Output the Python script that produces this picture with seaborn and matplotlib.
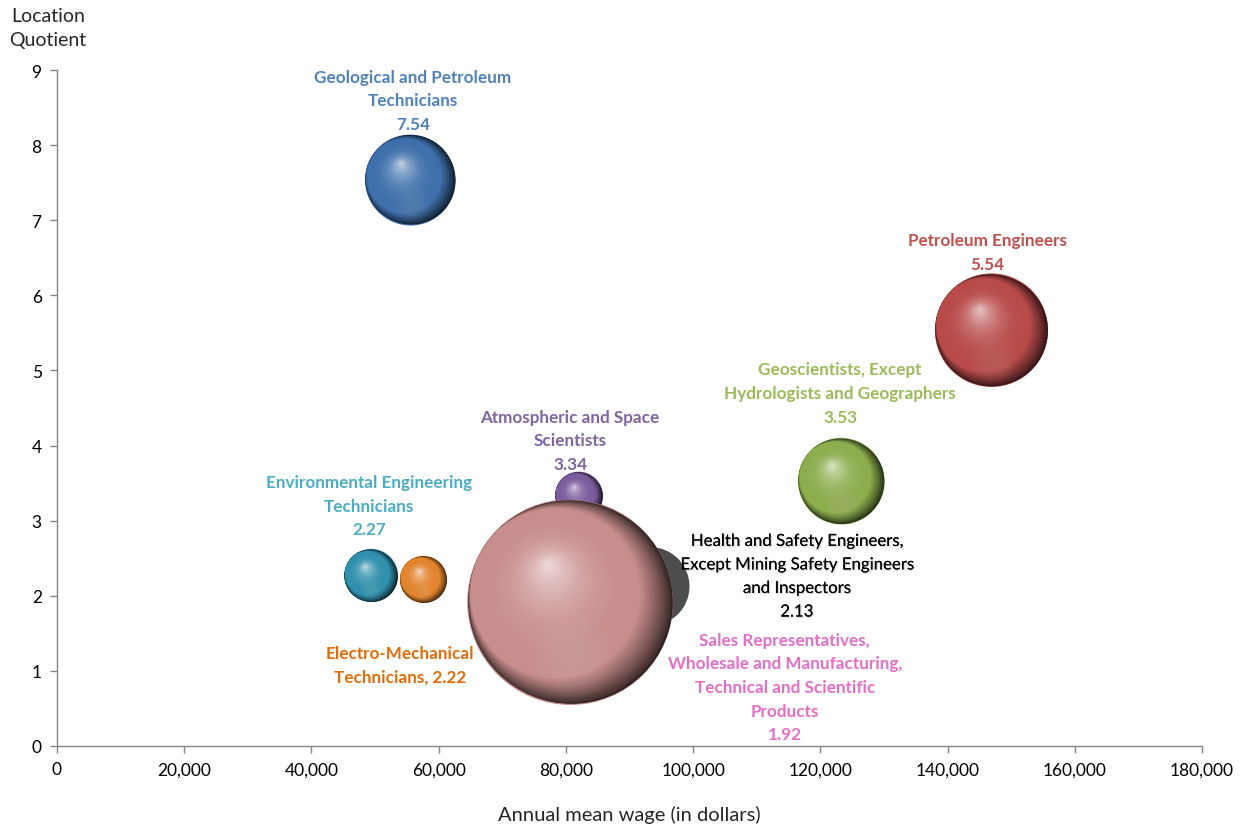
import numpy as np
import pandas as pd
import matplotlib
matplotlib.use("Agg")
import matplotlib.pyplot as plt
import matplotlib.transforms as mtransforms
import matplotlib.colors as mcolors
import matplotlib.patheffects as pe
from matplotlib.ticker import FuncFormatter, MultipleLocator
import seaborn as sns

# Occupations in the mining-related cluster
occupations = [
    "Geological and Petroleum\nTechnicians",
    "Petroleum Engineers",
    "Geoscientists, Except\nHydrologists and Geographers",
    "Atmospheric and Space\nScientists",
    "Environmental Engineering\nTechnicians",
    "Electro-Mechanical\nTechnicians",
    "Health and Safety Engineers,\nExcept Mining Safety Engineers\nand Inspectors",
    "Sales Representatives,\nWholesale and Manufacturing,\nTechnical and Scientific\nProducts",
]
annual_wage = [55500, 146900, 123250, 82000, 49300, 57600, 93200, 80600]
location_quotient = [7.54, 5.54, 3.53, 3.34, 2.27, 2.22, 2.13, 1.92]
employment = [2030, 3190, 1850, 550, 700, 550, 1520, 10500]

bubble_colors = ["#3f70ab", "#b84a4a", "#8dad4e", "#7b5d9d", "#3090ad",
                 "#e2842f", "#4d4d4d", "#c88d8d"]
label_colors = ["#4f81bd", "#c0504d", "#9bbb59", "#8064a2", "#4bacc6",
                "#e36c09", "#000000", "#e46ec8"]
shaded = [True, True, True, True, True, True, False, True]

# label anchor (wage, quotient) for each text block
label_x = [55970, 146300, 123100, 80650, 49050, 53900, 116300, 114400]
label_y = [8.60, 6.58, 4.70, 4.07, 3.20, 1.085, 2.26, 0.785]
label_text = [
    "Geological and Petroleum\nTechnicians\n7.54",
    "Petroleum Engineers\n5.54",
    "Geoscientists, Except\nHydrologists and Geographers\n3.53",
    "Atmospheric and Space\nScientists\n3.34",
    "Environmental Engineering\nTechnicians\n2.27",
    "Electro-Mechanical\nTechnicians, 2.22",
    "Health and Safety Engineers,\nExcept Mining Safety Engineers\nand Inspectors\n2.13",
    "Sales Representatives,\nWholesale and Manufacturing,\nTechnical and Scientific\nProducts\n1.92",
]

df = pd.DataFrame({
    "occupation": occupations,
    "wage": annual_wage,
    "lq": location_quotient,
    "employment": employment,
})

sns.set_theme(style="white")
plt.rcParams["font.family"] = ["Lato", "DejaVu Sans"]

W, H, DPI = 1245, 828, 100
fig = plt.figure(figsize=(W / DPI, H / DPI), dpi=DPI)
ax = fig.add_axes([57 / W, 1 - 747 / H, (1202 - 57) / W, (747 - 71) / H])

# marker area in points^2 proportional to employment
k_area = (2 * 0.72) ** 2
max_emp = max(employment)

sns.scatterplot(
    data=df, x="wage", y="lq", hue="occupation", size="employment",
    sizes=(0, k_area * max_emp), size_norm=(0, max_emp),
    palette=dict(zip(occupations, bubble_colors)), legend=False,
    linewidth=0, ax=ax, zorder=2,
)


def blend(c1, c2, t):
    a = np.array(mcolors.to_rgb(c1))
    b = np.array(mcolors.to_rgb(c2))
    return tuple(np.clip(a + (b - a) * t, 0, 1))


def disc(x, y, radius, dx, dy, color, z, alpha=1.0):
    """Disc of a given radius (points) shifted by (dx, dy) points from a data point."""
    tr = ax.transData + mtransforms.ScaledTranslation(dx / 72, dy / 72, fig.dpi_scale_trans)
    ax.scatter([x], [y], s=(2 * max(radius, 0.3)) ** 2, color=color, alpha=alpha,
               linewidths=0, zorder=z, transform=tr)


# light direction: shadow falls to the right, highlight sits up and to the left
rim_dir = np.array([-0.85, 0.53])
hi_dir = np.array([-0.5, 0.87])
z = 3
for i in range(len(occupations)):
    x, y, emp, col = annual_wage[i], location_quotient[i], employment[i], bubble_colors[i]
    s_full = k_area * emp
    r = np.sqrt(s_full) / 2
    if not shaded[i]:
        disc(x, y, r, 0, 0, col, z)
        z += 1
        continue
    dark = blend(col, "black", 0.75)
    light = blend(col, "white", 0.62)
    # base and dark shadow on the right-hand side
    disc(x, y, r, 0, 0, col, z)
    disc(x, y, r - 0.8, -0.8 * rim_dir[0], -0.8 * rim_dir[1], dark, z)
    n_rim = 16
    for k in range(1, n_rim):
        t = k / (n_rim - 1)
        d = 0.17 * r * t
        disc(x, y, r - d, d * rim_dir[0], d * rim_dir[1], blend(dark, col, t ** 0.8), z)
    # body fading into the highlight
    start = 0.17 * r * rim_dir
    n_body = 44
    for k in range(1, n_body):
        t = k / (n_body - 1)
        d = 0.17 * r + 0.79 * r * t ** 0.75
        end = 0.42 * r * hi_dir
        o = start + (end - start) * t
        disc(x, y, r - d, o[0], o[1], blend(col, light, t ** 2.0), z)
    # faint reflected light near the bottom
    n_ref = 10
    for k in range(n_ref):
        t = k / (n_ref - 1)
        disc(x, y, r * (0.42 - 0.3 * t), 0.02 * r, -0.52 * r,
             blend(col, "white", 0.35), z, alpha=0.035)
    z += 1

for i in range(len(occupations)):
    effects = None
    weight = "bold"
    size = 12.3
    if i == 6:
        weight = "normal"
        size = 12.1
        effects = [pe.withSimplePatchShadow(offset=(1, -1), shadow_rgbFace="#9a9a9a", alpha=0.3),
                   pe.Normal()]
    ax.text(label_x[i], label_y[i], label_text[i], ha="center", va="center",
            color=label_colors[i], fontsize=size, fontweight=weight,
            linespacing=1.58, zorder=20, path_effects=effects)

ax.set_xlim(0, 180000)
ax.set_ylim(0, 9)
ax.xaxis.set_major_locator(MultipleLocator(20000))
ax.yaxis.set_major_locator(MultipleLocator(1))
ax.xaxis.set_major_formatter(FuncFormatter(lambda v, p: f"{int(v):,}"))
ax.yaxis.set_major_formatter(FuncFormatter(lambda v, p: f"{int(v)}"))

for side in ["top", "right"]:
    ax.spines[side].set_visible(False)
for side in ["left", "bottom"]:
    ax.spines[side].set_color("#868686")
    ax.spines[side].set_linewidth(1.0)
ax.tick_params(axis="both", which="major", direction="out", length=5, width=1,
               color="#868686", labelsize=12.5, labelcolor="black", pad=6,
               bottom=True, left=True)
ax.set_xlabel("Annual mean wage (in dollars)", fontsize=14.5, labelpad=20)
ax.set_ylabel("")
fig.text(48 / W, 1 - 28.5 / H, "Location\nQuotient", ha="center", va="center",
         fontsize=14, linespacing=1.45)
ax.grid(False)

fig.savefig("out.png", dpi=DPI)
